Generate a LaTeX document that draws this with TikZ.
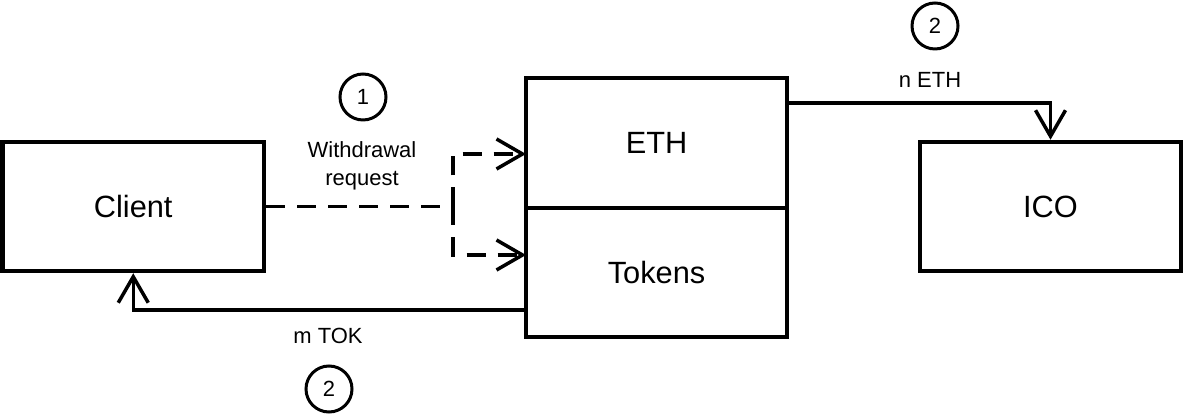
\documentclass[tikz,border=0pt]{standalone}
\usepackage{fontspec}
\setmainfont{Liberation Sans}
\usetikzlibrary{arrows.meta}
\tikzset{
  block/.style={draw, line width=0.09cm, minimum width=5.22cm, inner sep=0pt, font=\fontsize{17.5}{20}\selectfont},
  flow/.style={line width=0.07cm, -{Straight Barb[length=0.52cm, width=0.6cm]}},
  dashflow/.style={flow, dash pattern=on 0.38cm off 0.24cm},
  stepmark/.style={draw, circle, line width=0.06cm, minimum size=0.92cm, inner sep=0pt, font=\fontsize{12.5}{15}\selectfont},
  tag/.style={font=\fontsize{12.5}{16}\selectfont, align=center}
}
\begin{document}
\begin{tikzpicture}
                        \useasboundingbox (0,0) rectangle (23.68,8.32);

                        % Drawing boxes
                        \node [block, minimum height=2.58cm] (client) at (2.665,4.19) {Client};%
                        \node [block, minimum height=2.60cm] (eth) at (13.13,5.46) {ETH};%
                        \node [block, minimum height=2.58cm] (tokens) at (13.13,2.87) {Tokens};%
                        \node [block, minimum height=2.58cm] (ico) at (21.01,4.19) {ICO};%

                        % Points where the lines turn or leave
                        \coordinate (split) at (9.06,4.19);%
                        \coordinate (ethin) at (10.52,5.24);%
                        \coordinate (tokin) at (10.52,3.22);%
                        \coordinate (ethout) at (15.74,6.26);%
                        \coordinate (tokout) at (10.52,2.12);%

                        % Drawing withdrawal request (dashed)
                        \draw [dashflow, -] (client.east) -- (split);%
                        \draw [dashflow] (split) |- (ethin);%
                        \draw [dashflow] (split) |- (tokin);%

                        % Drawing payouts
                        \draw [flow] (ethout) -| (ico.north);%
                        \draw [flow] (tokout) -| (client.south);%

                        % Marking labels
                        \node [tag] (req) at (7.24,5.00) {Withdrawal\\request};%
                        \node [tag] (neth) at (18.60,6.72) {n ETH};%
                        \node [tag] (mtok) at (6.56,1.60) {m TOK};%

                        % Marking steps by circles
                        \node [stepmark] (one) at (7.26,6.38) {1};%
                        \node [stepmark] (twotop) at (18.70,7.80) {2};%
                        \node [stepmark] (twobot) at (6.58,0.54) {2};%
\end{tikzpicture}
\end{document}
